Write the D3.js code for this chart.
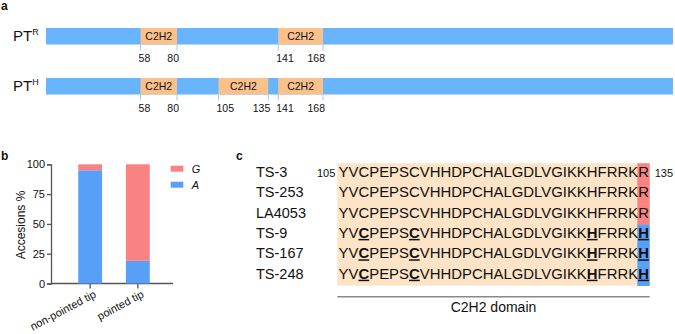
<!DOCTYPE html>
<html><head><meta charset="utf-8">
<script src="https://cdn.jsdelivr.net/npm/d3@7"></script>
<style>
html,body{margin:0;padding:0;background:#fff;}
text{font-family:"Liberation Sans",Arial,Helvetica,sans-serif;fill:#111;}
</style></head>
<body><svg id="chart" width="675" height="334"></svg>
<script>
// ---------- data ----------
const proteinLength = 379;
const proteinNames = ["R", "H"];
const domainsR = [[58, 80], [141, 168]];
const domainsH = [[58, 80], [105, 135], [141, 168]];
const domainLabel = "C2H2";

const categories = ["non-pointed tip", "pointed tip"];
const alleleA = [95, 19];
const alleleG = [5, 81];
const yTicks = [0, 25, 50, 75, 100];
const legendKeys = ["G", "A"];

const accessions = ["TS-3", "TS-253", "LA4053", "TS-9", "TS-167", "TS-248"];
const lastResidue = ["R", "R", "R", "H", "H", "H"];
const baseSeq = "YVCPEPSCVHHDPCHALGDLVGIKKHFRRK";
const boldPositions = [2, 7, 25];
const seqRange = [105, 135];
const domainName = "C2H2 domain";

// ---------- colours ----------
const barBlue = "#68b4fe", domOrange = "#fbc18a", red = "#f98283", blue = "#589ff8", peach = "#fde4c6";

const svg = d3.select("#chart");
const font = '"Liberation Sans",Arial,Helvetica,sans-serif';

// panel labels
[["a", 1, 9.5], ["b", 1, 160], ["c", 236, 160]].forEach(([t, x, y]) =>
  svg.append("text").attr("x", x).attr("y", y).attr("font-size", 12).attr("font-weight", "bold").text(t));

// ---------- panel a ----------
const xa = d3.scaleLinear().domain([1, proteinLength]).range([46, 673]);
const rows = [{name: proteinNames[0], doms: domainsR, y: 28}, {name: proteinNames[1], doms: domainsH, y: 78}];
const barH = 16.5;
rows.forEach(r => {
  const g = svg.append("g");
  const t = g.append("text").attr("x", 13).attr("y", r.y + 12.8).attr("font-size", 15);
  t.append("tspan").text("PT");
  t.append("tspan").attr("font-size", 9).attr("dy", -5.5).text(r.name);
  g.append("rect").attr("x", xa(1)).attr("y", r.y).attr("width", xa(proteinLength) - xa(1)).attr("height", barH).attr("fill", barBlue);
  g.selectAll("rect.dom").data(r.doms).join("rect").attr("class", "dom")
    .attr("x", d => xa(d[0])).attr("y", r.y).attr("width", d => xa(d[1]) - xa(d[0])).attr("height", barH).attr("fill", domOrange);
  g.selectAll("text.dl").data(r.doms).join("text").attr("class", "dl")
    .attr("x", d => (xa(d[0]) + xa(d[1])) / 2).attr("y", r.y + 12.3).attr("text-anchor", "middle").attr("font-size", 10.5).text(domainLabel);
  const bounds = r.doms.flatMap(d => [{v: d[0], s: true}, {v: d[1], s: false}]);
  g.selectAll("line.tk").data(bounds).join("line").attr("class", "tk")
    .attr("x1", d => xa(d.v)).attr("x2", d => xa(d.v)).attr("y1", r.y + barH).attr("y2", r.y + barH + 6)
    .attr("stroke", "#9cc9f5").attr("stroke-width", 1);
  g.selectAll("text.num").data(bounds).join("text").attr("class", "num")
    .attr("x", d => xa(d.v) + (d.s ? -2 : 2)).attr("y", r.y + barH + 17)
    .attr("text-anchor", d => d.s ? "start" : "end").attr("font-size", 10.5).text(d => d.v);
});

// ---------- panel b ----------
const y = d3.scaleLinear().domain([0, 100]).range([283.5, 164.3]);
const xb = d3.scaleBand().domain(categories).range([55, 173]).paddingInner(0.5).paddingOuter(0.487);
const axisCol = "#555";
const gy = svg.append("g").attr("transform", "translate(51,0)")
  .call(d3.axisLeft(y).tickValues(yTicks).tickSize(4).tickPadding(2));
gy.select(".domain").attr("stroke", axisCol).attr("stroke-width", 1.3);
gy.selectAll(".tick line").attr("stroke", axisCol).attr("stroke-width", 1.3);
gy.selectAll(".tick text").attr("font-size", 11).attr("font-family", font).attr("fill", "#111");
const gx = svg.append("g").attr("transform", "translate(0,283.5)")
  .call(d3.axisBottom(xb).tickSize(5).tickSizeOuter(0));
gx.select(".domain").remove();
gx.append("line").attr("x1", 51).attr("x2", 173).attr("stroke", axisCol).attr("stroke-width", 1.3);
gx.selectAll(".tick line").attr("stroke", axisCol).attr("stroke-width", 1.3);
gx.selectAll(".tick text").attr("font-size", 11).attr("font-family", font).attr("fill", "#111")
  .attr("text-anchor", "end").attr("dy", 0).attr("transform", "translate(3,6) rotate(-28)");
svg.selectAll("rect.barA").data(categories).join("rect").attr("class", "barA")
  .attr("x", d => xb(d)).attr("width", xb.bandwidth())
  .attr("y", (d, i) => y(alleleA[i])).attr("height", (d, i) => y(0) - y(alleleA[i])).attr("fill", blue);
svg.selectAll("rect.barG").data(categories).join("rect").attr("class", "barG")
  .attr("x", d => xb(d)).attr("width", xb.bandwidth())
  .attr("y", (d, i) => y(alleleA[i] + alleleG[i])).attr("height", (d, i) => y(alleleA[i]) - y(alleleA[i] + alleleG[i])).attr("fill", red);
svg.append("text").attr("transform", "translate(25,225) rotate(-90)").attr("text-anchor", "middle")
  .attr("font-size", 12).text("Accesions %");
const leg = svg.selectAll("g.leg").data(legendKeys).join("g").attr("class", "leg")
  .attr("transform", (d, i) => `translate(170.7,${165.7 + i * 16})`);
leg.append("rect").attr("width", 12.6).attr("height", 6).attr("fill", d => d === "G" ? red : blue);
leg.append("text").attr("x", 21).attr("y", 7).attr("font-size", 11).attr("font-style", "italic").text(d => d);

// ---------- panel c ----------
const rowTop = 163.3, rowH = 20.4;
const yc = d3.scaleBand().domain(accessions).range([rowTop, rowTop + rowH * accessions.length]);
const seqX = 338.6, fs = 14.9;
const boxLeft = 337.3;
const bg = svg.append("g"), hl = svg.append("g"), tx = svg.append("g");
let rightEdge = 0;
accessions.forEach((acc, i) => {
  const by = yc(acc);
  svg.append("text").attr("x", 256).attr("y", by + 13.4).attr("font-size", 14.5).text(acc);
  const isH = lastResidue[i] === "H";
  const t = tx.append("text").attr("x", seqX).attr("y", by + 13.4).attr("font-size", fs);
  const chars = (baseSeq + lastResidue[i]).split("");
  chars.forEach((c, k) => {
    const bold = isH && (boldPositions.includes(k) || k === chars.length - 1);
    const s = t.append("tspan").text(c);
    if (bold) s.attr("font-weight", "bold").attr("text-decoration", "underline");
  });
  const ext = t.node().getExtentOfChar(chars.length - 1);
  const hx = ext.x - 0.8, hw = ext.width + 1.6;
  rightEdge = Math.max(rightEdge, hx + hw);
  hl.append("rect").attr("x", hx).attr("y", by).attr("width", hw).attr("height", rowH + 0.3).attr("fill", isH ? blue : red);
});
bg.append("rect").attr("x", boxLeft).attr("y", rowTop).attr("width", rightEdge - boxLeft).attr("height", rowH * accessions.length).attr("fill", peach);
svg.append("text").attr("x", boxLeft - 2).attr("y", rowTop + 13.2).attr("text-anchor", "end").attr("font-size", 11).text(seqRange[0]);
svg.append("text").attr("x", rightEdge + 5).attr("y", rowTop + 13.2).attr("font-size", 11).text(seqRange[1]);
svg.append("line").attr("x1", boxLeft).attr("x2", rightEdge).attr("y1", 296.7).attr("y2", 296.7).attr("stroke", "#888").attr("stroke-width", 1.5);
svg.append("text").attr("x", (boxLeft + rightEdge) / 2).attr("y", 312).attr("text-anchor", "middle").attr("font-size", 14).text(domainName);
</script></body></html>
